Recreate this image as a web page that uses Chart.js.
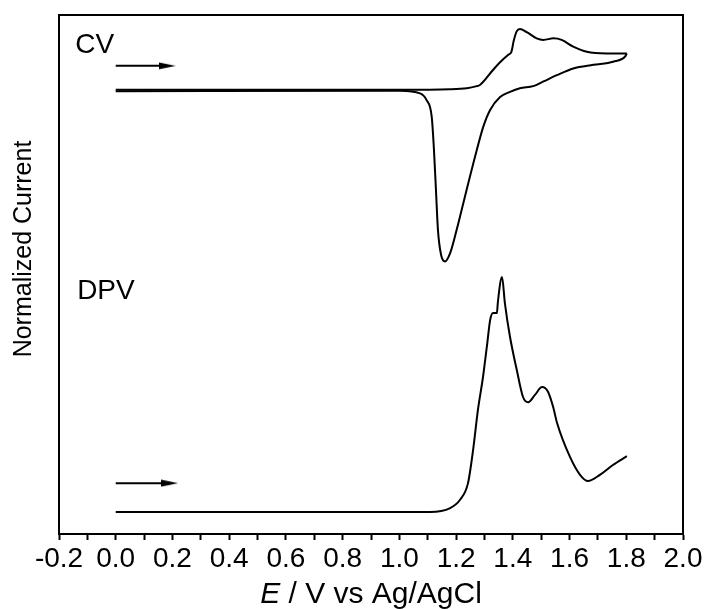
<!DOCTYPE html>
<html>
<head>
<meta charset="utf-8">
<script src="https://cdn.jsdelivr.net/npm/chart.js@4/dist/chart.umd.min.js"></script>
<style>
  html, body { margin: 0; padding: 0; background: #fff; }
  #wrap { width: 707px; height: 609px; }
</style>
</head>
<body>
<div id="wrap"><canvas id="voltammetry" width="707" height="609"></canvas></div>
<script>
// CV, forward sweep (0 -> 1.8 V)
const cvForwardE = [0, 1.0, 1.179, 1.238, 1.273, 1.284, 1.330, 1.355, 1.383, 1.395, 1.403, 1.414, 1.425, 1.449, 1.484, 1.508, 1.543, 1.572, 1.613, 1.661, 1.731, 1.802];
const cvForwardI = [85.6, 85.6, 85.7, 85.9, 86.3, 86.5, 89.4, 90.9, 92.3, 92.9, 95.0, 96.9, 97.3, 96.7, 95.5, 95.2, 95.5, 95.2, 93.9, 92.9, 92.6, 92.6];

// CV, reverse sweep (1.8 -> 0 V)
const cvReverseE = [1.802, 1.796, 1.754, 1.684, 1.613, 1.555, 1.508, 1.472, 1.425, 1.390, 1.355, 1.320, 1.296, 1.273, 1.237, 1.202, 1.179, 1.161, 1.147, 1.136, 1.129, 1.122, 1.114, 1.096, 1.073, 1.002, 0];
const cvReverseI = [92.6, 92.0, 91.0, 90.4, 89.7, 88.4, 87.2, 86.3, 85.9, 85.2, 84.2, 81.7, 78.5, 74.0, 66.3, 58.6, 54.1, 52.5, 53.8, 58.6, 66.3, 74.0, 80.4, 83.6, 84.9, 85.4, 85.3];

// DPV trace
const dpvE = [0, 1.108, 1.179, 1.214, 1.242, 1.260, 1.277, 1.295, 1.310, 1.320, 1.330, 1.344, 1.347, 1.362, 1.372, 1.390, 1.414, 1.436, 1.454, 1.478, 1.503, 1.524, 1.542, 1.556, 1.602, 1.637, 1.665, 1.707, 1.753, 1.802];
const dpvI = [4.24, 4.24, 5.0, 6.6, 9.8, 16.2, 23.9, 30.3, 36.8, 41.2, 42.6, 42.6, 44.5, 49.5, 44.5, 38.0, 31.6, 26.4, 25.4, 26.8, 28.3, 27.4, 24.5, 21.4, 14.8, 11.4, 10.2, 11.4, 13.3, 15.0];

// scan direction arrows: [start E, end E, current]
const cvArrow = [0, 0.181, 90.2];
const dpvArrow = [0, 0.19, 9.8];

const FONT = "'Liberation Sans', Arial, Helvetica, sans-serif";
Chart.defaults.font.family = FONT;
Chart.defaults.color = '#000';

const toPoints = (xs, ys) => xs.map((x, i) => ({ x, y: ys[i] }));

// small arrowhead image used as point style at the arrow tip
function makeArrowHead() {
    const c = document.createElement('canvas');
    c.width = 17;
    c.height = 8;
    const g = c.getContext('2d');
    g.fillStyle = '#000';
    g.beginPath();
    g.moveTo(0, 0.5);
    g.lineTo(17, 4);
    g.lineTo(0, 7.5);
    g.closePath();
    g.fill();
    return c;
}
const arrowHead = makeArrowHead();

function traceDataset(points) {
    return {
        data: points,
        borderColor: '#000',
        borderWidth: 2,
        pointRadius: 0,
        cubicInterpolationMode: 'monotone',
        fill: false,
    };
}

function arrowDataset(a) {
    return {
        data: [{ x: a[0], y: a[2] }, { x: a[1], y: a[2] }],
        borderColor: '#000',
        backgroundColor: '#000',
        borderWidth: 2,
        pointRadius: [0, 4],
        pointStyle: arrowHead,
        fill: false,
    };
}

// text labels, axis titles and top/right frame
const decorations = {
    id: 'decorations',
    afterDraw(chart) {
        const { ctx, chartArea, scales } = chart;
        const xs = scales.x, ys = scales.y;
        ctx.save();
        ctx.fillStyle = '#000';
        ctx.textBaseline = 'middle';
        ctx.textAlign = 'left';

        ctx.font = `28px ${FONT}`;
        ctx.fillText('CV', xs.getPixelForValue(-0.143), ys.getPixelForValue(94.2));
        ctx.fillText('DPV', xs.getPixelForValue(-0.136), ys.getPixelForValue(46.8));

        // x-axis title with italic E
        const italic = `italic 30px ${FONT}`;
        const upright = `30px ${FONT}`;
        ctx.font = italic;
        const wE = ctx.measureText('E').width;
        ctx.font = upright;
        const rest = ' / V vs Ag/AgCl';
        const wRest = ctx.measureText(rest).width;
        const cx = (chartArea.left + chartArea.right) / 2;
        let tx = cx - (wE + wRest) / 2;
        ctx.font = italic;
        ctx.fillText('E', tx, 595);
        ctx.font = upright;
        ctx.fillText(rest, tx + wE, 595);

        // y-axis title
        ctx.translate(24, 249);
        ctx.rotate(-Math.PI / 2);
        ctx.textAlign = 'center';
        ctx.font = `25px ${FONT}`;
        ctx.fillText('Normalized Current', 0, 0);
        ctx.restore();

        // frame on top and right sides
        ctx.save();
        ctx.strokeStyle = '#000';
        ctx.lineWidth = 2;
        ctx.beginPath();
        ctx.moveTo(chartArea.left, chartArea.top);
        ctx.lineTo(chartArea.right, chartArea.top);
        ctx.lineTo(chartArea.right, chartArea.bottom);
        ctx.stroke();
        ctx.restore();
    }
};

new Chart(document.getElementById('voltammetry'), {
    type: 'line',
    data: {
        datasets: [
            traceDataset(toPoints(cvForwardE, cvForwardI)),
            traceDataset(toPoints(cvReverseE, cvReverseI)),
            traceDataset(toPoints(dpvE, dpvI)),
            arrowDataset(cvArrow),
            arrowDataset(dpvArrow),
        ]
    },
    options: {
        responsive: false,
        animation: false,
        layout: { padding: { top: 15, right: 24, left: 0, bottom: 0 } },
        plugins: {
            legend: { display: false },
            tooltip: { enabled: false },
        },
        scales: {
            x: {
                type: 'linear',
                min: -0.2,
                max: 2.0,
                afterFit: (scale) => { scale.height = 75; },
                border: { display: true, color: '#000', width: 2 },
                grid: {
                    display: true,
                    drawOnChartArea: false,
                    drawTicks: true,
                    tickLength: 6,
                    tickColor: '#000',
                    tickWidth: 2,
                },
                ticks: {
                    stepSize: 0.1,
                    autoSkip: false,
                    maxRotation: 0,
                    padding: 2,
                    color: '#000',
                    font: { size: 28 },
                    callback: (value) => {
                        const v = Math.round(value * 10);
                        return v % 2 === 0 ? (v / 10).toFixed(1) : '';
                    }
                }
            },
            y: {
                type: 'linear',
                min: 0,
                max: 100,
                afterFit: (scale) => { scale.width = 59; },
                border: { display: true, color: '#000', width: 2 },
                grid: { display: false },
                ticks: { display: false },
            }
        }
    },
    plugins: [decorations]
});
</script>
</body>
</html>
